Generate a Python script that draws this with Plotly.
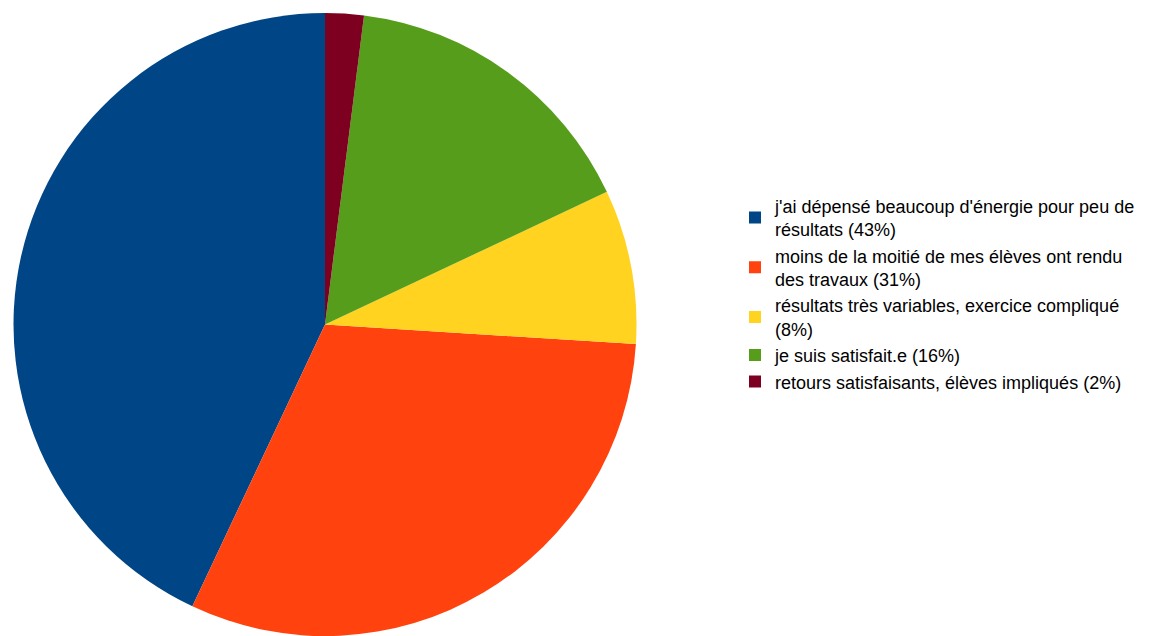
import plotly.graph_objects as go

# Survey answers and their share of respondents (%)
labels = [
    "j'ai dépensé beaucoup d'énergie pour peu de<br>résultats (43%)",
    "moins de la moitié de mes élèves ont rendu<br>des travaux (31%)",
    "résultats très variables, exercice compliqué<br>(8%)",
    "je suis satisfait.e (16%)",
    "retours satisfaisants, élèves impliqués (2%)",
]
values = [43, 31, 8, 16, 2]
colors = ["#004586", "#ff420e", "#ffd320", "#579d1c", "#7e0021"]

W, H = 1169, 636
top = 13

# first slice runs counterclockwise from 12 o'clock
start_rotation = -values[0] / sum(values) * 360

fig = go.Figure(
    go.Pie(
        labels=labels,
        values=values,
        sort=False,
        direction="counterclockwise",
        rotation=start_rotation,
        marker=dict(colors=colors, line=dict(width=0)),
        textinfo="none",
        hoverinfo="label+percent",
        domain=dict(x=[13.5 / W, 636.5 / W], y=[0, 1]),
    )
)

fig.update_layout(
    width=W,
    height=H,
    margin=dict(l=0, r=0, t=top, b=0),
    paper_bgcolor="white",
    plot_bgcolor="white",
    font=dict(family="Liberation Sans, Arial, sans-serif", size=18, color="#000000"),
    legend=dict(
        x=735 / W,
        xanchor="left",
        y=(H - 294) / (H - top),
        yanchor="middle",
        bgcolor="rgba(0,0,0,0)",
        tracegroupgap=0,
        itemclick=False,
    ),
    showlegend=True,
)

fig.write_html("out.html")
